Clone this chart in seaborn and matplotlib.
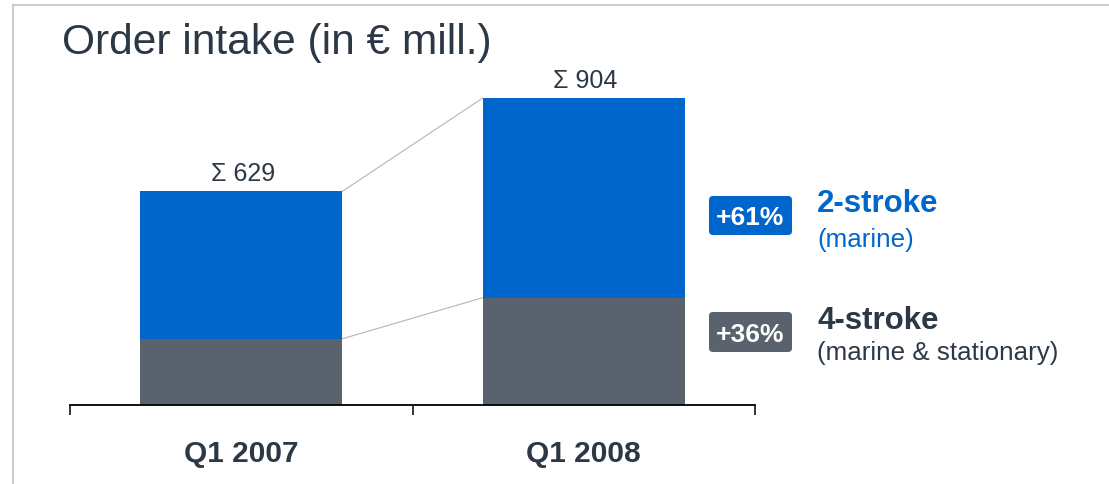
import matplotlib
matplotlib.use("Agg")
import matplotlib.pyplot as plt
import matplotlib.patches as mpatches
import matplotlib.lines as mlines
from matplotlib.transforms import IdentityTransform
import seaborn as sns
import pandas as pd

# ---- data ----
categories = ["Q1 2007", "Q1 2008"]
four_stroke = [195, 316]
two_stroke = [434, 588]
totals = [a + b for a, b in zip(four_stroke, two_stroke)]
growth_labels = ["+61%", "+36%"]
series_names = ["2-stroke", "4-stroke"]
series_sub = ["(marine)", "(marine & stationary)"]

BLUE = "#0066CC"
GRAY = "#5A636D"
DARK = "#2C3845"
FONT = ["Liberation Sans", "DejaVu Sans"]

sns.set_style("white")
plt.rcParams["font.family"] = FONT

W, H = 1109, 484
fig = plt.figure(figsize=(W / 100, H / 100), dpi=100)
px_per_unit = 307 / 904
ax_h = 1000 * px_per_unit
ax = fig.add_axes([70 / W, (H - 405) / H, 685 / W, ax_h / H])

df = pd.DataFrame({"cat": categories, "total": totals, "four": four_stroke})
bw = 0.59
sns.barplot(data=df, x="cat", y="total", order=categories, color=BLUE,
            saturation=1, width=bw, errorbar=None, ax=ax, zorder=2,
            linewidth=0, edgecolor="none")
sns.barplot(data=df, x="cat", y="four", order=categories, color=GRAY,
            saturation=1, width=bw, errorbar=None, ax=ax, zorder=2,
            linewidth=0, edgecolor="none")

ax.set_xlim(-0.5, 1.5)
ax.set_ylim(0, 1000)
ax.set_xlabel("")
ax.set_ylabel("")
ax.set_yticks([])
for s in ["left", "top", "right"]:
    ax.spines[s].set_visible(False)
ax.spines["bottom"].set_color("black")
ax.spines["bottom"].set_linewidth(1.3)

ax.set_xticks([0, 1])
ax.set_xticklabels(categories, fontsize=21.5, fontweight="bold", color=DARK,
                   family=FONT)
ax.set_xticks([-0.5, 0.5, 1.5], minor=True)
ax.tick_params(axis="x", which="both", bottom=True)
ax.tick_params(axis="x", which="major", length=0, pad=25)
ax.tick_params(axis="x", which="minor", length=7.5, width=1.1, color="black",
               direction="out")

# connector lines
hw = bw / 2
ax.plot([0 + hw, 1 - hw], [totals[0], totals[1]], color="#b5b5b5", lw=0.8, zorder=1)
ax.plot([0 + hw, 1 - hw], [four_stroke[0], four_stroke[1]], color="#b5b5b5", lw=0.8, zorder=1)

# sum labels
for i, t in enumerate(totals):
    ax.annotate(f"\u03a3 {t}", xy=(i, t), xytext=(1, 7.5), textcoords="offset points",
                ha="center", va="baseline", fontsize=18, color=DARK)

def fx(x):
    return x / W

def fy(y):
    return 1 - y / H

# title
fig.text(fx(62), fy(54), "Order intake (in \u20ac mill.)", fontsize=30.6, color=DARK,
         ha="left", va="baseline")

# legend badges on the right
badge_specs = [
    (709, 196, 83, 39, BLUE, growth_labels[0]),
    (709, 312, 83, 40, GRAY, growth_labels[1]),
]
for x0, y0, w, h, col, lab in badge_specs:
    p = mpatches.FancyBboxPatch((x0, H - (y0 + h)), w, h,
                                boxstyle="round,pad=0,rounding_size=4",
                                transform=IdentityTransform(), facecolor=col,
                                edgecolor="none")
    fig.add_artist(p)
    fig.text(fx(x0 + w / 2), fy(y0 + h / 2 + 10), lab, fontsize=19, fontweight="bold",
             color="white", ha="center", va="baseline")

fig.text(fx(817), fy(212), series_names[0], fontsize=22.5, fontweight="bold",
         color=BLUE, ha="left", va="baseline")
fig.text(fx(817), fy(247), series_sub[0], fontsize=18.7, color=BLUE,
         ha="left", va="baseline")
fig.text(fx(817), fy(329), series_names[1], fontsize=22.5, fontweight="bold",
         color=DARK, ha="left", va="baseline")
fig.text(fx(817), fy(360), series_sub[1], fontsize=18.7, color=DARK,
         ha="left", va="baseline")

# slide frame
fig.add_artist(mlines.Line2D([fx(13), 1.0], [fy(5), fy(5)], transform=fig.transFigure,
                             color="#cccccc", lw=1.5))
fig.add_artist(mlines.Line2D([fx(13), fx(13)], [fy(5), 0.0], transform=fig.transFigure,
                             color="#cccccc", lw=1.5))

fig.savefig("out.png", dpi=100)
